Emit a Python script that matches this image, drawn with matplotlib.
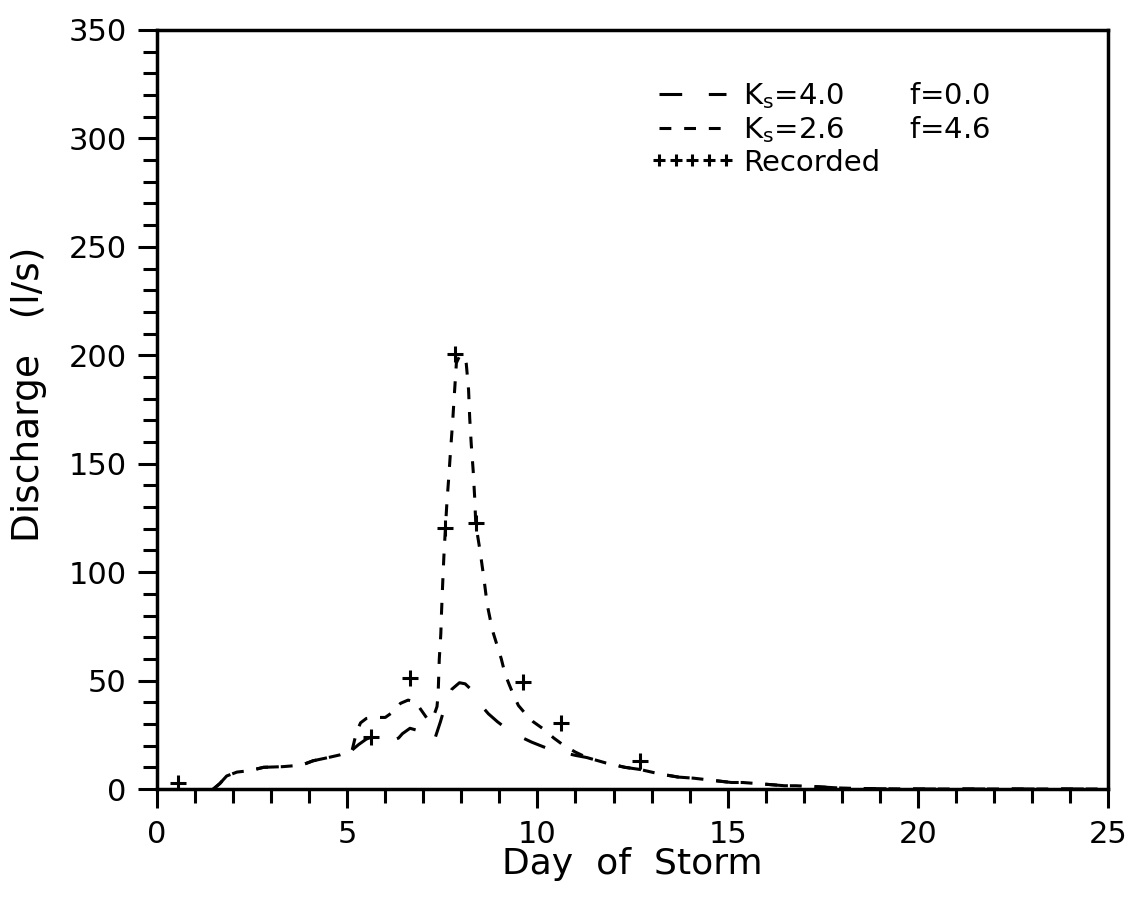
import numpy as np
import matplotlib
matplotlib.use("Agg")
import matplotlib.pyplot as plt
from matplotlib.ticker import MultipleLocator

# ---- data ----
days_ks40 = [1.48, 1.65, 1.83, 2.1, 2.45, 2.8, 3.3, 3.8, 4.1, 4.5, 4.8, 5.0, 5.13,
             5.3, 5.5, 5.65, 5.9, 6.2, 6.35, 6.45, 6.65, 6.85, 7.0, 7.15, 7.3, 7.45,
             7.6, 7.75, 7.95, 8.1, 8.25, 8.45, 8.71, 8.95, 9.19, 9.5, 9.85, 10.15,
             10.42, 10.8, 11.0, 11.3, 11.8, 12.3, 12.7, 13.2, 13.7, 14.1, 14.6,
             15.1, 15.4, 16.0, 16.5, 16.8, 17.4, 17.9, 18.5, 20, 25]
q_ks40 = [0, 2.5, 6, 7.8, 8.5, 10, 10.3, 11, 13, 14.5, 15.7, 17, 18,
          20.5, 23, 24, 23, 22.5, 23.5, 25.5, 28, 27, 24, 22, 23, 31,
          40, 46, 49, 48.5, 46, 40, 34.7, 31, 27.8, 24.5, 21.6, 19.5,
          17.7, 16.3, 15.5, 14.5, 12, 10, 9, 7, 5.5, 5, 4,
          3, 3, 2.2, 1.5, 1.5, 1, 0.5, 0.2, 0, 0]

days_ks26 = [1.48, 1.65, 1.83, 2.1, 2.45, 2.8, 3.3, 3.8, 4.1, 4.5, 4.8, 5.0, 5.13,
             5.24, 5.35, 5.5, 5.7, 6.0, 6.2, 6.4, 6.6, 6.8, 6.96, 7.1, 7.2, 7.3,
             7.36, 7.39, 7.42, 7.46, 7.48, 7.51, 7.54, 7.58, 7.62, 7.67, 7.72,
             7.77, 7.82, 7.87, 7.95, 8.03, 8.1, 8.13, 8.19, 8.22, 8.26, 8.31,
             8.35, 8.38, 8.49, 8.59, 8.68, 8.82, 8.98, 9.05, 9.15, 9.25, 9.38,
             9.5, 9.67, 9.89, 10.17, 10.43, 10.7, 11.0, 11.3, 11.8, 12.3, 12.7,
             13.2, 13.7, 14.1, 14.6, 15.1, 15.4, 16.0, 16.5, 16.8, 17.4, 17.9,
             18.5, 20, 25]
q_ks26 = [0, 2.5, 6, 7.8, 8.5, 10, 10.3, 11, 13, 14.5, 15.7, 17, 18,
          26, 30.5, 32.5, 33, 33, 35.5, 39.5, 41, 40, 36, 32.5, 32, 35,
          38, 44, 60, 71.5, 82, 95, 107, 120, 132, 144, 157,
          169, 183, 196.5, 199.5, 200, 198.5, 196, 184, 171, 159, 147,
          134.5, 122, 110, 97.5, 85, 73, 64, 60, 53, 48.5, 43,
          38.5, 35, 31, 27.5, 23.5, 20, 17, 14.5, 12, 10, 9,
          7, 5.5, 5, 4, 3, 3, 2.2, 1.5, 1.5, 1, 0.5,
          0.2, 0, 0]

rec_days = [0.55, 5.63, 6.65, 7.56, 7.82, 8.38, 9.63, 10.61, 12.69]
rec_q = [2.9, 24.2, 51.2, 120.3, 200.5, 122.8, 49.4, 30.6, 13.0]

label_ks40 = r"K$_{\mathregular{s}}$=4.0       f=0.0"
label_ks26 = r"K$_{\mathregular{s}}$=2.6       f=4.6"
label_rec = "Recorded"

# ---- figure ----
DPI = 100
fig = plt.figure(figsize=(11.29, 8.97), dpi=DPI)
ax = fig.add_axes([0.1391, 0.1204, 0.8423, 0.8462])
ax.set_xlim(0, 25)
ax.set_ylim(0, 350)

lw = 2.2


def path_length(xs, ys, upto_x):
    pts = ax.transData.transform(np.column_stack([xs, ys]))
    xs = np.asarray(xs)
    n = int(np.searchsorted(xs, upto_x)) + 1
    seg = np.diff(pts[:n], axis=0)
    return np.hypot(seg[:, 0], seg[:, 1]).sum()


# choose the short-dash period so both patterns are in phase where the
# two simulated curves coincide again (day 11.3 onward)
merge_day = 11.3
diff = path_length(days_ks26, q_ks26, merge_day) - path_length(days_ks40, q_ks40, merge_day)
k = max(1, int(round(diff / 25.0)))
period_px = diff / k
px_per_lw = lw * DPI / 72.0
p = period_px / px_per_lw
dash_short = (p * 12 / 25, p * 13 / 25)
dash_long = (2 * p * 23 / 50, 2 * p * 27 / 50)

ax.plot(days_ks40, q_ks40, color="black", lw=lw, dashes=dash_long,
        label=label_ks40)
ax.plot(days_ks26, q_ks26, color="black", lw=lw, dashes=dash_short,
        label=label_ks26)
ax.plot(rec_days, rec_q, ls="none", marker="+", ms=12, mew=2.2,
        color="black", label=label_rec)

ax.xaxis.set_major_locator(MultipleLocator(5))
ax.xaxis.set_minor_locator(MultipleLocator(1))
ax.yaxis.set_major_locator(MultipleLocator(50))
ax.yaxis.set_minor_locator(MultipleLocator(10))

ax.tick_params(which="major", direction="out", length=14, width=2.2,
               labelsize=22, pad=8, top=False, right=False)
ax.tick_params(which="minor", direction="out", length=10, width=2.2,
               top=False, right=False)
for s in ax.spines.values():
    s.set_linewidth(2.5)

ax.set_xlabel("Day  of  Storm", fontsize=26)
ax.xaxis.set_label_coords(0.5, -0.076)
ax.set_ylabel("Discharge   (l/s)", fontsize=27, va="center")
ax.yaxis.set_label_coords(-0.135, 0.52)

ax.legend(loc="upper left", bbox_to_anchor=(650 / 1129, 1 - 80 / 897),
          bbox_transform=fig.transFigure, frameon=False, fontsize=21,
          handlelength=2.9, handletextpad=0.3, labelspacing=0.12,
          numpoints=5, markerscale=0.72, borderpad=0, borderaxespad=0)

fig.savefig("out.png", dpi=DPI, facecolor="white")
